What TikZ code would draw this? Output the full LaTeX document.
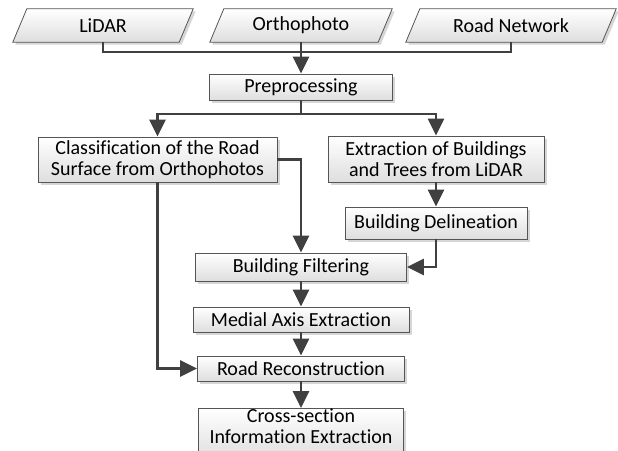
\documentclass[tikz,border=0pt]{standalone}
\usepackage{fontspec}
\setmainfont{Carlito}[Ligatures=CommonOff]
\usetikzlibrary{arrows.meta,shadows,calc,backgrounds}
\definecolor{lnc}{RGB}{64,64,64}
\definecolor{bdc}{RGB}{85,85,85}
\definecolor{btm}{RGB}{222,222,222}
\newcommand\ioshape[1]{%
  \fill[black,opacity=0.16] ($(#1.south west)+(2.5,2.5)$) -- ($(#1.north west)+(16.5,2.5)$) -- ($(#1.north east)+(2.5,2.5)$) -- ($(#1.south east)+(-11.5,2.5)$) -- cycle;
  \shade[draw=bdc,line width=0.8pt,top color=white,bottom color=btm] (#1.south west) -- ($(#1.north west)+(14,0)$) -- (#1.north east) -- ($(#1.south east)+(-14,0)$) -- cycle;}
\begin{document}
\begin{tikzpicture}[x=1pt,y=-1pt,
  txt/.style={font=\fontsize{20}{21.5}\selectfont,align=center,inner sep=0pt,text=black},
  box/.style={txt,draw=bdc,line width=0.8pt,top color=white,bottom color=btm,
    drop shadow={shadow xshift=2.5pt,shadow yshift=-2.5pt,fill=black,opacity=0.16}},
  io/.style={txt,minimum height=33pt},
  conn/.style={draw=lnc,line width=2.7pt},
  arr/.style={conn,-{Triangle[width=16pt,length=17pt]}}]
\useasboundingbox (0,0) rectangle (618,450);

% inputs
\node[io,minimum width=180pt] (lidar) at (103,25.5) {LiDAR};
\node[io,minimum width=182pt] (ortho) at (301,25.5) {Orthophoto};
\node[io,minimum width=210pt] (road) at (511,25.5) {Road Network};
\begin{scope}[on background layer]
  \ioshape{lidar}\ioshape{ortho}\ioshape{road}
\end{scope}

% process boxes
\node[box,minimum width=183pt,minimum height=26pt] (pre) at (301,87) {Preprocessing};
\node[box,minimum width=239pt,minimum height=45pt] (class) at (157.5,159.5) {Classification of the Road\\Surface from Orthophotos};
\node[box,minimum width=216pt,minimum height=46pt] (extr) at (436,159) {Extraction of Buildings\\and Trees from LiDAR};
\node[box,minimum width=182pt,minimum height=32pt] (deli) at (436,223) {Building Delineation};
\node[box,minimum width=211pt,minimum height=28pt] (filt) at (301,267) {Building Filtering};
\node[box,minimum width=216pt,minimum height=25pt] (medial) at (301,319.5) {Medial Axis Extraction};
\node[box,minimum width=207pt,minimum height=25pt] (rec) at (301,368.5) {Road Reconstruction};
\node[txt,minimum width=204pt,minimum height=34pt] (cross) at (301,426) {Cross-section\\Information Extraction};
\begin{scope}[on background layer]
  \fill[black,opacity=0.16] ($(cross.north west)+(2.5,2.5)$) rectangle ($(cross.south east)+(2.5,18)$);
  \shade[draw=bdc,line width=0.8pt,top color=white,bottom color=btm] (cross.north west) rectangle ($(cross.south east)+(0,16)$);
\end{scope}

% junctions
\coordinate (j1) at (301,52);
\coordinate (j2) at (301,114);

% connectors
\draw[conn] (lidar.south) |- (j1);
\draw[conn] (road.south) |- (j1);
\draw[arr] (ortho.south) -- (pre.north);
\draw[conn] (pre.south) -- (j2);
\draw[arr] (j2) -| (class.north);
\draw[arr] (j2) -| (extr.north);
\draw[arr] (class.east) -| (filt.north);
\draw[arr] (class.south) |- (rec.west);
\draw[arr] (extr.south) -- (deli.north);
\draw[arr] (deli.south) |- (filt.east);
\draw[arr] (filt.south) -- (medial.north);
\draw[arr] (medial.south) -- (rec.north);
\draw[arr] (rec.south) -- (cross.north);
\end{tikzpicture}
\end{document}
